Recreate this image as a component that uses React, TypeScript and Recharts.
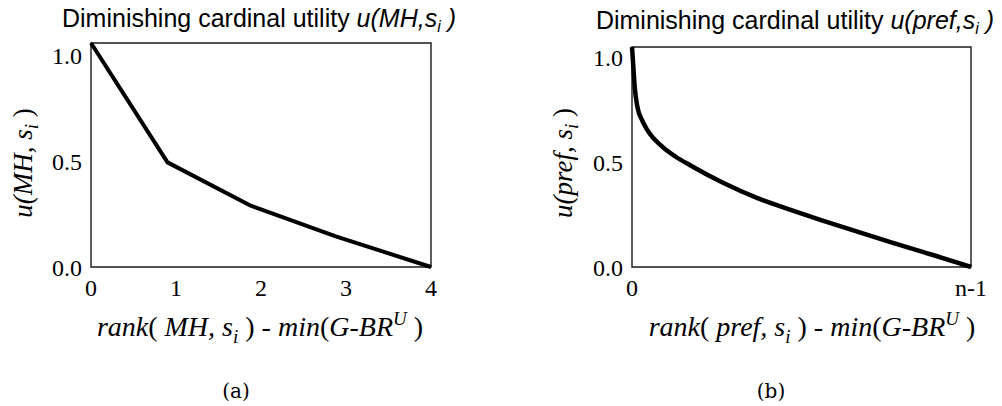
import React from "react";
import { LineChart, Line, XAxis, YAxis, ReferenceArea } from "recharts";

// ---- Data: chart (a) ----
const mhRank = [0, 0.9, 1.88, 2.88, 4];
const mhUtility = [1.06, 0.495, 0.29, 0.145, 0];
const mhTicksX = [0, 1, 2, 3, 4];
const mhTickLabelsX = ["0", "1", "2", "3", "4"];

// ---- Data: chart (b) ----
const prefRank = [0, 0.004, 0.008, 0.016, 0.03, 0.045, 0.09, 0.13, 0.17, 0.27, 0.37, 0.47, 0.56, 0.66, 0.76, 0.86, 0.96, 1.0];
const prefUtility = [1.05, 0.955, 0.86, 0.764, 0.7, 0.654, 0.573, 0.525, 0.487, 0.401, 0.329, 0.272, 0.223, 0.171, 0.12, 0.071, 0.021, 0];
const prefTicksX = [0, 1];
const prefTickLabelsX = ["0", "n-1"];

const yTicks = [0, 0.5, 1.0];
const yTickLabels = ["0.0", "0.5", "1.0"];

const mhData = mhRank.map((x, i) => ({ x, u: mhUtility[i] }));
const prefData = prefRank.map((x, i) => ({ x, u: prefUtility[i] }));

const SERIF = "'Liberation Serif', 'Times New Roman', serif";
const SANS = "'Liberation Sans', Arial, sans-serif";

const tickStyle = { fontFamily: SERIF, fontSize: 24, fill: "#000" };

function YTitle({ cx, cy, main }: { cx: number; cy: number; main: string }) {
  return (
    <text
      x={cx}
      y={cy}
      textAnchor="middle"
      fontFamily={SERIF}
      fontSize={27}
      fontStyle="italic"
      fill="#000"
      transform={`rotate(-90, ${cx}, ${cy})`}
    >
      <tspan>{`u(${main}, s`}</tspan>
      <tspan fontSize={19} dy={6}>i</tspan>
      <tspan dy={-6} fontStyle="normal">{" )"}</tspan>
    </text>
  );
}

function XTitle({ cx, y, main }: { cx: number; y: number; main: string }) {
  return (
    <text x={cx} y={y} textAnchor="middle" fontFamily={SERIF} fontSize={28} fill="#000">
      <tspan fontStyle="italic">rank</tspan>
      <tspan>(</tspan>
      <tspan fontStyle="italic">{` ${main}, s`}</tspan>
      <tspan fontStyle="italic" fontSize={19} dy={7}>i</tspan>
      <tspan dy={-7}>{" ) - "}</tspan>
      <tspan fontStyle="italic">min</tspan>
      <tspan>(</tspan>
      <tspan fontStyle="italic">G-BR</tspan>
      <tspan fontStyle="italic" fontSize={19} dy={-11}>U</tspan>
      <tspan dy={11}>{" )"}</tspan>
    </text>
  );
}

function Panel({
  data,
  left,
  width,
  plotLeft,
  plotRight,
  plotTop,
  xMax,
  yMax,
  ticksX,
  tickLabelsX,
  main,
  yTitleX,
  xTitleCx,
  strokeWidth,
  curve,
}: any) {
  const height = 406;
  const xAxisH = 60;
  const plotBottom = 267;
  return (
    <div style={{ position: "absolute", left, top: 0, width, height }}>
      <LineChart
        width={width}
        height={height}
        data={data}
        margin={{ top: plotTop, right: width - plotRight, left: 0, bottom: height - plotBottom - xAxisH }}
      >
        <XAxis
          dataKey="x"
          type="number"
          domain={[0, xMax]}
          ticks={ticksX}
          tickFormatter={(v: number) => tickLabelsX[ticksX.indexOf(v)] ?? String(v)}
          tickLine={false}
          axisLine={false}
          tickSize={0}
          tickMargin={12}
          height={xAxisH}
          tick={tickStyle}
          interval={0}
          label={{
            content: (p: any) => {
              const vb = p.viewBox || {};
              return <XTitle cx={xTitleCx} y={(vb.y ?? plotBottom) + 69} main={main} />;
            },
          }}
        />
        <YAxis
          type="number"
          domain={[0, yMax]}
          ticks={yTicks}
          tickFormatter={(v: number) => yTickLabels[yTicks.indexOf(v)] ?? String(v)}
          tickLine={false}
          axisLine={false}
          tickSize={0}
          tickMargin={9}
          width={plotLeft}
          tick={tickStyle}
          interval={0}
          label={{
            content: () => <YTitle cx={yTitleX} cy={163} main={main} />,
          }}
        />
        <ReferenceArea
          x1={0}
          x2={xMax}
          y1={0}
          y2={yMax}
          fill="none"
          fillOpacity={0}
          stroke="#1a1a1a"
          strokeWidth={1.4}
          ifOverflow="visible"
        />
        <Line
          type={curve}
          dataKey="u"
          stroke="#000"
          strokeWidth={strokeWidth}
          dot={false}
          activeDot={false}
          isAnimationActive={false}
          strokeLinejoin="round"
        />
      </LineChart>
    </div>
  );
}

function Title({ cx, y, main }: { cx: number; y: number; main: string }) {
  return (
    <text x={cx} y={y} textAnchor="middle" fontFamily={SANS} fontSize={25} fill="#000">
      <tspan>Diminishing cardinal utility </tspan>
      <tspan fontStyle="italic">{`u(${main},s`}</tspan>
      <tspan fontStyle="italic" fontSize={16} dy={5}>i</tspan>
      <tspan fontStyle="italic" dy={-5}>{" )"}</tspan>
    </text>
  );
}

export default function App() {
  return (
    <div style={{ position: "absolute", left: 0, top: 0, width: 1002, height: 406, background: "#fff", overflow: "hidden" }}>
      <Panel
        data={mhData}
        left={0}
        width={460}
        plotLeft={91}
        plotRight={431}
        plotTop={43}
        xMax={4}
        yMax={1.06}
        ticksX={mhTicksX}
        tickLabelsX={mhTickLabelsX}
        main="MH"
        yTitleX={32}
        xTitleCx={260}
        strokeWidth={4}
        curve="linear"
      />
      <Panel
        data={prefData}
        left={490}
        width={512}
        plotLeft={142}
        plotRight={481}
        plotTop={47}
        xMax={1}
        yMax={1.05}
        ticksX={prefTicksX}
        tickLabelsX={prefTickLabelsX}
        main="pref"
        yTitleX={82}
        xTitleCx={322}
        strokeWidth={4.5}
        curve="monotone"
      />
      <svg width={1002} height={406} style={{ position: "absolute", left: 0, top: 0, pointerEvents: "none" }}>
        <Title cx={259} y={27} main="MH" />
        <Title cx={795} y={29} main="pref" />
        <text x={236} y={398} textAnchor="middle" fontFamily="'DejaVu Serif', serif" fontSize={20} fill="#000">(a)</text>
        <text x={771} y={398} textAnchor="middle" fontFamily="'DejaVu Serif', serif" fontSize={20} fill="#000">(b)</text>
      </svg>
    </div>
  );
}
